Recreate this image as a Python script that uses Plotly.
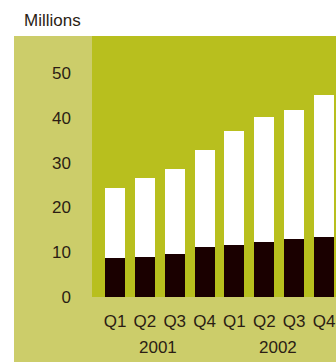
import plotly.graph_objects as go

# Quarterly values, millions
quarters = ["Q1", "Q2", "Q3", "Q4", "Q1", "Q2", "Q3", "Q4"]
years = ["2001", "2002"]
totals = [24.3, 26.6, 28.6, 32.8, 37.0, 40.2, 41.7, 45.1]
base = [8.7, 8.9, 9.6, 11.2, 11.6, 12.3, 12.9, 13.4]
upper = [t - b for t, b in zip(totals, base)]
y_ticks = [0, 10, 20, 30, 40, 50]

x = list(range(len(quarters)))

TEXT = "#2b1d14"
PANEL = "#cccd6a"
PLOT = "#b8bf1e"
DARK = "#1a0000"
FONT = "Liberation Sans"

fig = go.Figure()
fig.add_trace(go.Bar(x=x, y=base, marker=dict(color=DARK, line=dict(width=0)),
                     width=0.67, showlegend=False))
fig.add_trace(go.Bar(x=x, y=upper, marker=dict(color="#ffffff", line=dict(width=0)),
                     width=0.67, showlegend=False))

W, H = 336, 362
ml, mt, mb = 92, 36, 65
pw, ph = W - ml, H - mt - mb

fig.update_layout(
    width=W, height=H,
    barmode="stack",
    margin=dict(l=ml, r=0, t=mt, b=mb),
    paper_bgcolor="#ffffff",
    plot_bgcolor=PLOT,
    font=dict(family=FONT, size=17, color=TEXT),
    xaxis=dict(
        range=[-0.77, 7.40],
        tickvals=x, ticktext=quarters,
        showgrid=False, zeroline=False, showline=False, ticks="",
        ticklabelstandoff=12,
        fixedrange=True,
    ),
    yaxis=dict(
        range=[0, 58.3],
        tickvals=y_ticks,
        showgrid=False, zeroline=False, showline=False, ticks="",
        ticklabelstandoff=20,
        fixedrange=True,
    ),
    shapes=[
        # light outer panel
        dict(type="rect", xref="paper", yref="paper",
             x0=-(ml - 14) / pw, x1=1,
             y0=-mb / ph, y1=1,
             fillcolor=PANEL, line=dict(width=0), layer="below"),
        # plotting area on top of the panel
        dict(type="rect", xref="paper", yref="paper",
             x0=0, x1=1, y0=0, y1=1,
             fillcolor=PLOT, line=dict(width=0), layer="below"),
    ],
    annotations=[
        dict(text="Millions", xref="paper", yref="paper",
             x=-(ml - 22) / pw, y=1 + 15 / ph,
             xanchor="left", yanchor="middle", showarrow=False,
             font=dict(size=17)),
        dict(text=years[0], xref="x", yref="paper", x=1.45,
             y=-50 / ph, xanchor="center", yanchor="middle",
             showarrow=False),
        dict(text=years[1], xref="x", yref="paper", x=5.45,
             y=-50 / ph, xanchor="center", yanchor="middle",
             showarrow=False),
    ],
)

fig.write_html("out.html")
